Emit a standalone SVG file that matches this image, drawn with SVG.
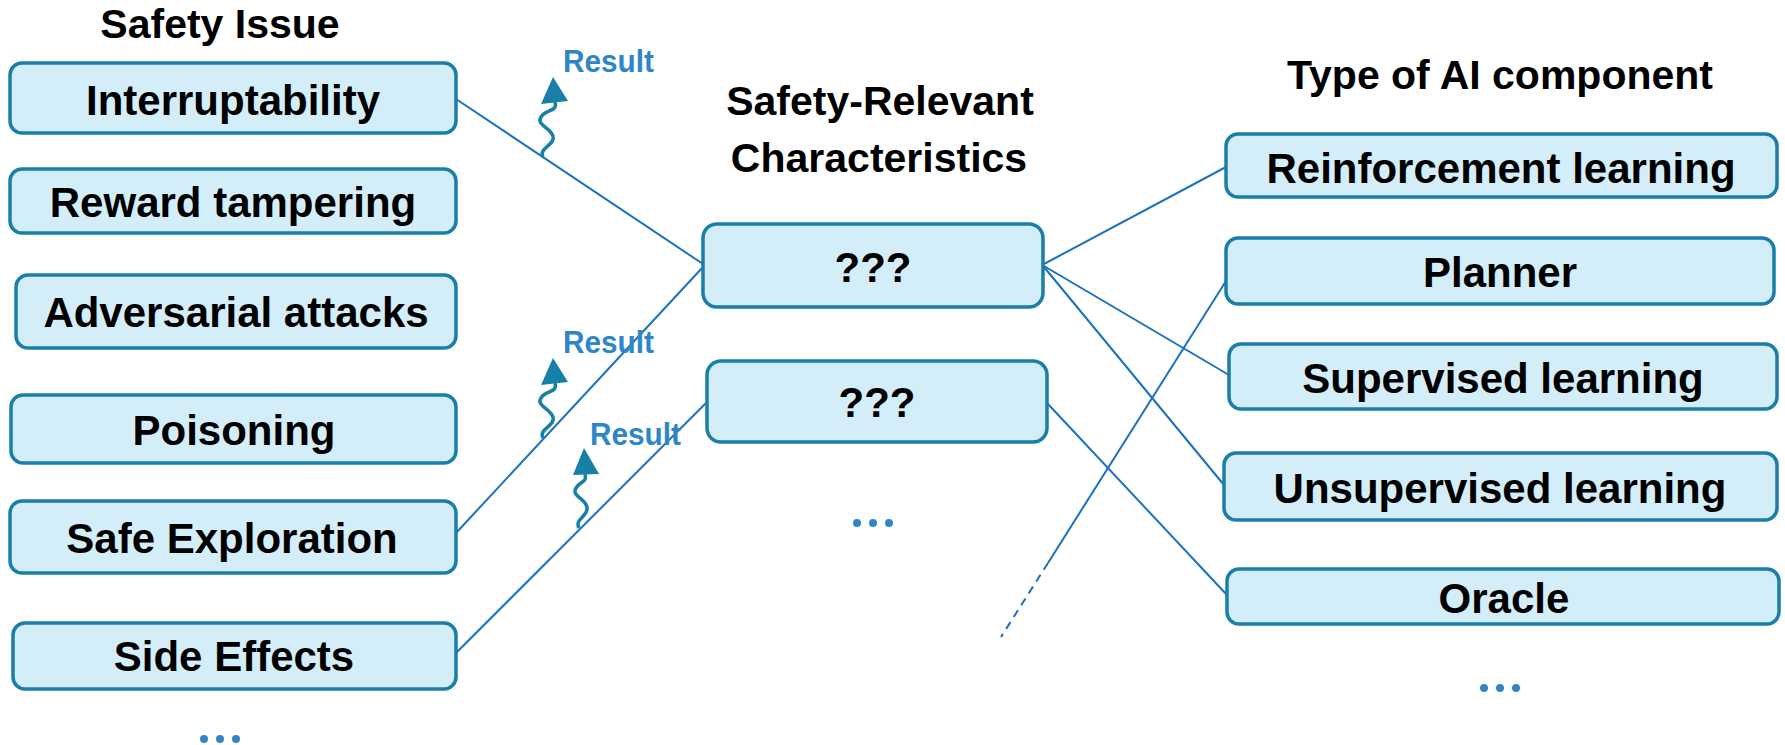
<svg xmlns="http://www.w3.org/2000/svg" width="1785" height="745" viewBox="0 0 1785 745">
<style>
.box{fill:#d4eef9;stroke:#1a7fa8;stroke-width:3.5}
.t{font-family:"Liberation Sans",Arial,sans-serif;font-weight:bold;font-size:42px;fill:#000;text-anchor:middle}
.h{font-family:"Liberation Sans",Arial,sans-serif;font-weight:bold;font-size:41px;fill:#000;text-anchor:middle}
.res{font-family:"Liberation Sans",Arial,sans-serif;font-weight:bold;font-size:32px;fill:#2e86c8}
.con{stroke:#1a72bf;stroke-width:2;fill:none}
.wig{stroke:#1680a6;stroke-width:3.5;fill:none}
.head{fill:#1680a6}
.dot{fill:#2e86c8}
</style>
<rect width="1785" height="745" fill="#fff"/>

<g id="titles">
<text class="h" x="220" y="38">Safety Issue</text>
<text class="h" x="880" y="115">Safety-Relevant</text>
<text class="h" x="879" y="172">Characteristics</text>
<text class="h" x="1500" y="89">Type of  AI component</text>
</g>

<g id="connectors">
<line class="con" x1="456" y1="99" x2="703" y2="264"/>
<line class="con" x1="456" y1="533" x2="703" y2="267"/>
<line class="con" x1="456" y1="653" x2="706" y2="403"/>
<line class="con" x1="1044" y1="264" x2="1226" y2="167"/>
<line class="con" x1="1044" y1="266" x2="1229" y2="375"/>
<line class="con" x1="1044" y1="267" x2="1224" y2="485"/>
<line class="con" x1="1047" y1="403" x2="1227" y2="595"/>
<line class="con" x1="1226" y1="281" x2="1048" y2="563"/>
<line class="con" x1="1048" y1="563" x2="1001" y2="637" stroke-dasharray="8,6"/>
</g>

<g id="result1">
<g transform="translate(543,157)">
<path class="wig" d="M0,0 C-5,-9 13,-12 10,-21 C7,-30 -7,-32 -2,-40 C3,-48 15,-45 12,-55"/>
<polygon class="head" points="10,-80 -2,-53 25,-56"/>
</g>
<text class="res" x="563" y="72" textLength="91" lengthAdjust="spacingAndGlyphs">Result</text>
</g>
<g id="result2">
<g transform="translate(543,438)">
<path class="wig" d="M0,0 C-5,-9 13,-12 10,-21 C7,-30 -7,-32 -2,-40 C3,-48 15,-45 12,-55"/>
<polygon class="head" points="10,-80 -2,-53 25,-56"/>
</g>
<text class="res" x="563" y="353" textLength="91" lengthAdjust="spacingAndGlyphs">Result</text>
</g>
<g id="result3">
<g transform="translate(579,528)">
<path class="wig" d="M0,0 C-5,-9 10,-12 8,-21 C6,-30 -8,-32 -3,-40 C2,-48 8,-45 6,-54"/>
<polygon class="head" points="5,-80 -6,-53 20,-54"/>
</g>
<text class="res" x="590" y="445" textLength="91" lengthAdjust="spacingAndGlyphs">Result</text>
</g>

<g id="interruptability"><rect class="box" x="10" y="63" width="446" height="70" rx="12"/><text class="t" x="233" y="115">Interruptability</text></g>
<g id="reward-tampering"><rect class="box" x="10" y="169" width="446" height="64" rx="12"/><text class="t" x="233" y="217">Reward tampering</text></g>
<g id="adversarial-attacks"><rect class="box" x="16" y="275" width="440" height="73" rx="12"/><text class="t" x="236" y="327">Adversarial attacks</text></g>
<g id="poisoning"><rect class="box" x="11" y="395" width="445" height="68" rx="12"/><text class="t" x="234" y="445">Poisoning</text></g>
<g id="safe-exploration"><rect class="box" x="10" y="501" width="446" height="72" rx="12"/><text class="t" x="232" y="553">Safe Exploration</text></g>
<g id="side-effects"><rect class="box" x="13" y="623" width="443" height="66" rx="12"/><text class="t" x="234" y="671">Side Effects</text></g>
<g id="left-more"><circle class="dot" cx="204" cy="739" r="4"/><circle class="dot" cx="220" cy="739" r="4"/><circle class="dot" cx="236" cy="739" r="4"/></g>

<g id="char1"><rect class="box" x="703" y="224" width="340" height="83" rx="14"/><text class="t" x="873" y="282">???</text></g>
<g id="char2"><rect class="box" x="707" y="361" width="340" height="81" rx="14"/><text class="t" x="877" y="417">???</text></g>
<g id="mid-more"><circle class="dot" cx="857" cy="523" r="4"/><circle class="dot" cx="873" cy="523" r="4"/><circle class="dot" cx="889" cy="523" r="4"/></g>

<g id="reinforcement-learning"><rect class="box" x="1226" y="134" width="551" height="63" rx="12"/><text class="t" x="1501" y="183">Reinforcement learning</text></g>
<g id="planner"><rect class="box" x="1226" y="238" width="548" height="66" rx="12"/><text class="t" x="1500" y="287">Planner</text></g>
<g id="supervised-learning"><rect class="box" x="1229" y="344" width="548" height="65" rx="12"/><text class="t" x="1503" y="393">Supervised learning</text></g>
<g id="unsupervised-learning"><rect class="box" x="1224" y="453" width="553" height="67" rx="12"/><text class="t" x="1500" y="503">Unsupervised learning</text></g>
<g id="oracle"><rect class="box" x="1227" y="569" width="552" height="55" rx="12"/><text class="t" x="1504" y="613">Oracle</text></g>
<g id="right-more"><circle class="dot" cx="1484" cy="688" r="4"/><circle class="dot" cx="1500" cy="688" r="4"/><circle class="dot" cx="1516" cy="688" r="4"/></g>
</svg>
